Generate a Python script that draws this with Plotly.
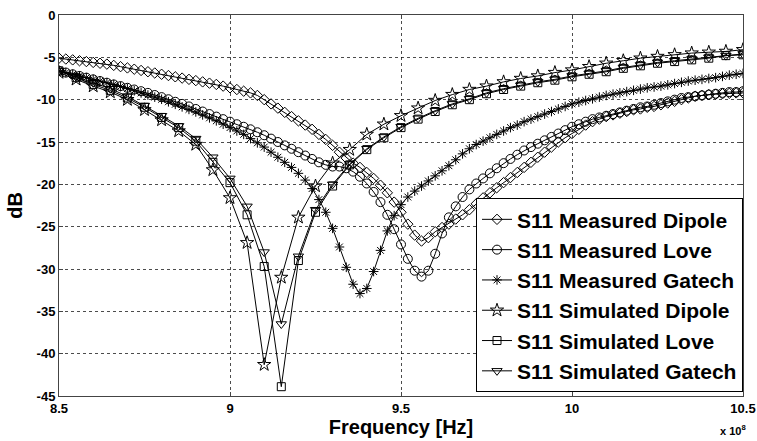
import plotly.graph_objects as go

# Frequencies in MHz
freq_meas = list(range(850, 1051, 2))
freq_sim = list(range(850, 1051, 5))

meas_dipole = [
    -5.1, -5.2, -5.3, -5.4, -5.5, -5.6, -5.7, -5.8, -5.95, -6.1,
    -6.25, -6.4, -6.55, -6.7, -6.85, -7.0, -7.15, -7.3, -7.45, -7.6,
    -7.75, -7.9, -8.05, -8.2, -8.4, -8.6, -8.8, -9.0, -9.2, -9.5,
    -10.0, -10.5, -11.0, -11.5, -12.0, -12.5, -13.0, -13.5, -14.1, -14.7,
    -15.4, -16.2, -16.9, -17.5, -18.0, -18.6, -19.3, -20.1, -21.0, -22.1,
    -23.3, -24.7, -26.0, -26.7, -26.3, -25.6, -25.1, -24.7, -24.1, -23.6,
    -23.0, -22.3, -21.6, -21.0, -20.4, -19.8, -19.2, -18.6, -18.0, -17.4,
    -16.8, -16.2, -15.6, -15.0, -14.5, -14.0, -13.5, -13.0, -12.6, -12.3,
    -12.0, -11.8, -11.6, -11.4, -11.2, -11.1, -10.9, -10.8, -10.6, -10.4,
    -10.2, -10.0, -9.8, -9.6, -9.5, -9.4, -9.35, -9.3, -9.25, -9.2,
    -9.2,
]

meas_love = [
    -6.6, -6.8, -7.0, -7.2, -7.4, -7.6, -7.8, -8.0, -8.2, -8.4,
    -8.6, -8.8, -9.0, -9.2, -9.45, -9.7, -9.95, -10.25, -10.5, -10.8,
    -11.1, -11.4, -11.7, -12.0, -12.3, -12.6, -12.9, -13.2, -13.5, -13.85,
    -14.2, -14.6, -15.0, -15.4, -15.8, -16.2, -16.6, -17.0, -17.4, -17.7,
    -17.9, -17.9, -18.1, -18.5, -19.1, -19.9, -20.9, -22.1, -23.6, -25.3,
    -27.1, -28.8, -30.2, -30.9, -30.2, -28.2, -25.8, -23.9, -22.6, -21.5,
    -20.6, -19.9, -19.3, -18.7, -18.1, -17.5, -17.0, -16.5, -16.0, -15.6,
    -15.2, -14.8, -14.4, -14.0, -13.6, -13.2, -12.9, -12.6, -12.3, -12.1,
    -11.9, -11.7, -11.5, -11.3, -11.1, -10.9, -10.8, -10.6, -10.4, -10.2,
    -10.0, -9.8, -9.7, -9.6, -9.5, -9.4, -9.3, -9.2, -9.1, -9.1,
    -9.0,
]

meas_gatech = [
    -6.6, -6.8, -7.0, -7.2, -7.4, -7.6, -7.8, -8.0, -8.2, -8.45,
    -8.7, -8.95, -9.2, -9.45, -9.7, -9.95, -10.25, -10.55, -10.85, -11.15,
    -11.45, -11.8, -12.15, -12.5, -12.9, -13.3, -13.7, -14.1, -14.6, -15.1,
    -15.6, -16.2, -16.8, -17.4, -18.0, -18.7, -19.5, -20.5, -21.8, -23.3,
    -25.2, -27.4, -29.8, -31.8, -32.9, -32.3, -30.3, -27.8, -25.5, -23.7,
    -22.4, -21.5, -20.8, -20.2, -19.6, -19.0, -18.4, -17.8, -17.1, -16.4,
    -15.8, -15.3, -14.9, -14.5, -14.1, -13.7, -13.3, -13.0, -12.6, -12.3,
    -12.0, -11.7, -11.4, -11.1, -10.8, -10.5, -10.3, -10.1, -9.9, -9.7,
    -9.5, -9.35, -9.2, -9.05, -8.9, -8.75, -8.6, -8.5, -8.4, -8.25,
    -8.1, -7.95, -7.8, -7.7, -7.6, -7.5, -7.4, -7.25, -7.1, -7.0,
    -6.9,
]

sim_dipole = [
    -6.8, -7.6, -8.4, -9.1, -10.0, -11.2, -12.4, -13.7, -15.3, -18.3,
    -21.6, -26.9, -41.3, -31.0, -23.9, -20.2, -17.5, -15.9, -14.1, -12.9,
    -11.9, -11.0, -10.1, -9.4, -8.8, -8.4, -7.9, -7.5, -7.2, -6.8,
    -6.5, -6.1, -5.7, -5.4, -5.1, -4.9, -4.7, -4.5, -4.4, -4.3,
    -4.1,
]

sim_love = [
    -6.6, -7.4, -8.2, -8.9, -9.8, -10.9, -12.1, -13.3, -14.9, -17.4,
    -19.8, -23.6, -29.7, -43.9, -29.0, -23.3, -20.2, -17.7, -15.9, -14.5,
    -13.3, -12.3, -11.4, -10.6, -10.0, -9.3, -8.8, -8.4, -8.0, -7.7,
    -7.3, -7.0, -6.7, -6.3, -6.0, -5.7, -5.5, -5.3, -5.1, -4.8,
    -4.7,
]

sim_gatech = [
    -6.6, -7.3, -8.0, -8.7, -9.6, -10.7, -11.9, -13.1, -14.6, -16.8,
    -19.3, -22.6, -28.0, -36.5, -28.5, -23.0, -20.0, -17.6, -15.8, -14.4,
    -13.2, -12.2, -11.3, -10.5, -9.9, -9.2, -8.7, -8.3, -7.9, -7.6,
    -7.2, -6.9, -6.6, -6.2, -5.9, -5.6, -5.4, -5.2, -5.0, -4.8,
    -4.6,
]

x_tick_vals = [8.5e8, 9.0e8, 9.5e8, 10.0e8, 10.5e8]
x_tick_text = ["8.5", "9", "9.5", "10", "10.5"]
y_tick_vals = [0, -5, -10, -15, -20, -25, -30, -35, -40, -45]
y_tick_text = ["0", "-5", "-10", "-15", "-20", "-25", "-30", "-35", "-40", "-45"]

series = [
    ("S11 Measured Dipole", freq_meas, meas_dipole, "diamond-open", 8),
    ("S11 Measured Love", freq_meas, meas_love, "circle-open", 9),
    ("S11 Measured Gatech", freq_meas, meas_gatech, "asterisk-open", 8),
    ("S11 Simulated Dipole", freq_sim, sim_dipole, "star-open", 10),
    ("S11 Simulated Love", freq_sim, sim_love, "square-open", 8),
    ("S11 Simulated Gatech", freq_sim, sim_gatech, "triangle-down-open", 9),
]

FONT = "Liberation Sans, Arial, sans-serif"

fig = go.Figure()
for name, fx, fy, sym, sz in series:
    fig.add_trace(go.Scatter(
        x=[f * 1e6 for f in fx], y=fy, name=name, mode="lines+markers",
        line=dict(color="black", width=1),
        marker=dict(symbol=sym, size=sz, color="black",
                    line=dict(color="black", width=1)),
    ))

axis_common = dict(
    showline=True, linecolor="#444", linewidth=1, mirror="ticks",
    ticks="inside", ticklen=4, tickcolor="#444",
    showgrid=True, gridcolor="rgba(0,0,0,0.7)", griddash="dot", gridwidth=1,
    zeroline=False, automargin=False, ticklabeloverflow="allow",
    tickfont=dict(family=FONT, size=13, color="black", weight="bold"),
)

fig.update_layout(
    width=757, height=441,
    margin=dict(l=59, r=14, t=15, b=45),
    paper_bgcolor="white", plot_bgcolor="white",
    showlegend=True,
    legend=dict(
        x=1, xanchor="right", y=0.01, yanchor="bottom",
        bgcolor="white", bordercolor="black", borderwidth=1,
        font=dict(family=FONT, size=21, color="black", weight="bold"),
        itemwidth=30, tracegroupgap=0, traceorder="normal",
    ),
    xaxis=dict(
        range=[8.5e8, 10.5e8], tickvals=x_tick_vals, ticktext=x_tick_text,
        title=dict(text="Frequency [Hz]", standoff=4,
                   font=dict(family=FONT, size=20, color="black", weight="bold")),
        **axis_common,
    ),
    yaxis=dict(
        range=[-45, 0], tickvals=y_tick_vals, ticktext=y_tick_text,
        title=dict(text="dB", standoff=8,
                   font=dict(family=FONT, size=20, color="black", weight="bold")),
        **axis_common,
    ),
    annotations=[dict(
        text="x 10<sup>8</sup>", xref="paper", yref="paper",
        x=1.007, y=-0.113, xanchor="right", yanchor="bottom", showarrow=False,
        font=dict(family=FONT, size=11, color="black", weight="bold"),
    )],
)

# Remove the default page margin so the 757x441 figure fills the window exactly.
fig.write_html(
    "out.html",
    config={"displayModeBar": False},
    post_script="document.body.style.margin='0';"
                "document.documentElement.style.overflow='hidden';",
)
